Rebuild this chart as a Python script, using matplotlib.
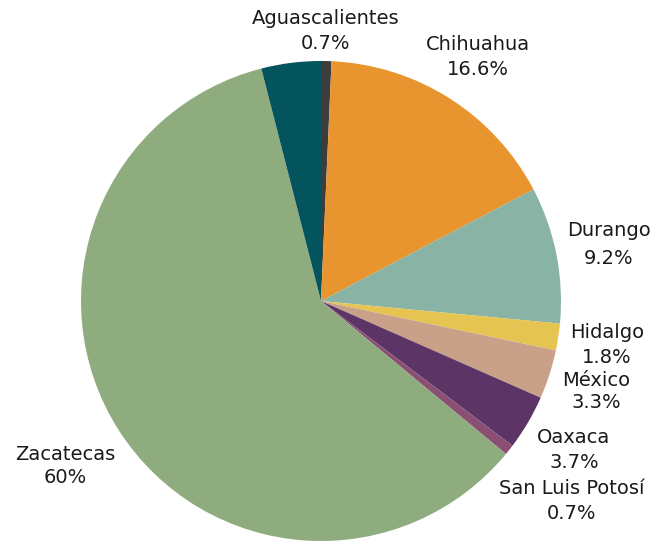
import matplotlib
matplotlib.use('Agg')
import matplotlib.pyplot as plt

estados = ['Aguascalientes', 'Chihuahua', 'Durango', 'Hidalgo', 'México',
           'Oaxaca', 'San Luis Potosí', 'Zacatecas', 'Otros']
porcentajes = [0.7, 16.6, 9.2, 1.8, 3.3, 3.7, 0.7, 60, 4.0]
etiquetas = ['0.7%', '16.6%', '9.2%', '1.8%', '3.3%', '3.7%', '0.7%', '60%', '']
colores = ['#3d3d3d', '#e8952f', '#88b3a5', '#e5c452', '#c9a188',
           '#5c3566', '#8b4f74', '#8fac7f', '#03545c']

# posiciones de las etiquetas (pixeles, origen arriba-izquierda)
pos_etiquetas = [(326, 31), (478, 57), (609, 245), (607, 345), (596, 392),
                 (574, 450), (572, 501), (65, 466), None]
interlineado = [1.35, 1.35, 1.6, 1.35, 1.2, 1.35, 1.35, 1.25, 1.3]

plt.rcParams['font.family'] = ['DejaVu Sans']
fig = plt.figure(figsize=(6.55, 5.41), dpi=100)
ax = fig.add_axes([0, 0, 1, 1])

ax.pie(porcentajes, colors=colores, startangle=90, counterclock=False,
       center=(321, 240), radius=240, frame=True)
ax.set_xlim(0, 655)
ax.set_ylim(0, 541)
ax.axis('off')

for nombre, pct, pos, ls in zip(estados, etiquetas, pos_etiquetas, interlineado):
    if pos is None:
        continue
    ax.text(pos[0], 541 - pos[1], nombre + '\n' + pct, ha='center', va='center',
            fontsize=14, color='#1a1a1a', linespacing=ls)

fig.savefig('out.png', dpi=100)
